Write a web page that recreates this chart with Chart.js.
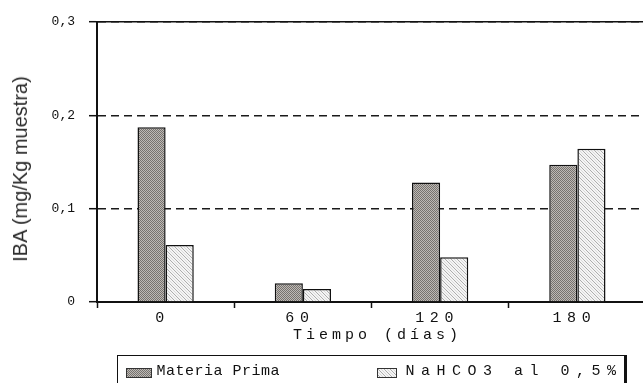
<!DOCTYPE html>
<html>
<head>
<meta charset="utf-8">
<script src="https://cdn.jsdelivr.net/npm/chart.js@4/dist/chart.umd.min.js"></script>
<style>
  html, body { margin: 0; padding: 0; background: #fff; width: 643px; height: 383px; overflow: hidden; }
  #wrap { position: relative; width: 643px; height: 383px; overflow: hidden; }
  #chart { position: absolute; left: 0; top: 0; }
  #ytitle {
    position: absolute; left: 20px; top: 169px;
    transform: translate(-50%, -50%) rotate(-90deg);
    font: 20px "Liberation Sans", Arial, sans-serif; line-height: 20px;
    white-space: nowrap; color: #2b2b2b;
  }
  #legend {
    position: absolute; left: 117px; top: 355px; width: 510px; height: 60px;
    border: 1.5px solid #111; border-right-width: 3px; box-sizing: border-box;
  }
  .sw { position: absolute; top: 11.5px; height: 10px; border: 1px solid #333; box-sizing: border-box; }
  .lt { position: absolute; top: 8px; font: 15px "Liberation Mono", monospace; line-height: 16px; color: #111; white-space: nowrap; }
</style>
</head>
<body>
<div id="wrap">
  <canvas id="chart" width="648" height="383"></canvas>
  <div id="ytitle"></div>
  <div id="legend"></div>
</div>
<script>
// Storage time (days) and IBA content for each treatment
const categories = ['0', '60', '120', '180'];
const seriesNames = ['Materia Prima', 'NaHCO3 al 0,5%'];
const materiaPrima = [0.187, 0.020, 0.128, 0.147];
const bicarbonato = [0.061, 0.014, 0.048, 0.164];
const yTickLabels = ['0', '0,1', '0,2', '0,3'];
const xTitle = 'Tiempo (días)';
const yTitle = 'IBA (mg/Kg muestra)';

// Fill textures: fine stipple for the raw material, light diagonal hatch for the bicarbonate
function stippleTile() {
  const c = document.createElement('canvas');
  c.width = 4; c.height = 4;
  const g = c.getContext('2d');
  for (let y = 0; y < 4; y++) {
    for (let x = 0; x < 4; x++) {
      g.fillStyle = ((x + y) % 2 === 0) ? '#76726e' : '#bdb9b5';
      g.fillRect(x, y, 1, 1);
    }
  }
  return c;
}
function hatchTile() {
  const c = document.createElement('canvas');
  c.width = 6; c.height = 6;
  const g = c.getContext('2d');
  g.fillStyle = '#f4f4f4';
  g.fillRect(0, 0, 6, 6);
  for (let i = 0; i < 6; i++) {
    g.fillStyle = '#acacac';
    g.fillRect(i, i, 1, 1);
    g.fillStyle = '#dadada';
    g.fillRect(i, (i + 3) % 6, 1, 1);
  }
  return c;
}
const tiles = [stippleTile(), hatchTile()];
const canvas = document.getElementById('chart');
const ctx = canvas.getContext('2d');
const fills = tiles.map(t => ctx.createPattern(t, 'repeat'));

// Category axis whose labels and title use wide letter spacing
const LABEL_SPACING = '5.5px';
const TITLE_SPACING = '4px';
const TITLE_SHIFT = 6;
class SpacedCategoryScale extends Chart.CategoryScale {
  drawLabels(area) {
    const c = this.ctx;
    c.save();
    c.letterSpacing = LABEL_SPACING;
    super.drawLabels(area);
    c.restore();
  }
  drawTitle() {
    const c = this.ctx;
    c.save();
    c.letterSpacing = TITLE_SPACING;
    c.translate(TITLE_SHIFT, 0);
    super.drawTitle();
    c.restore();
  }
}
SpacedCategoryScale.id = 'spacedCategory';
SpacedCategoryScale.defaults = Chart.CategoryScale.defaults;
Chart.register(SpacedCategoryScale);

// Solid top edge of the plot frame
const frameTop = {
  id: 'frameTop',
  afterDraw(chart) {
    const { ctx: c, chartArea: { left, top, right } } = chart;
    c.save();
    c.strokeStyle = '#111';
    c.lineWidth = 1.5;
    c.beginPath();
    c.moveTo(left, top);
    c.lineTo(right, top);
    c.stroke();
    c.restore();
  }
};

const monoFont = 'Liberation Mono';

new Chart(ctx, {
  type: 'bar',
  data: {
    labels: categories,
    datasets: [
      { label: seriesNames[0], data: materiaPrima, backgroundColor: fills[0] },
      { label: seriesNames[1], data: bicarbonato, backgroundColor: fills[1] }
    ]
  },
  options: {
    responsive: false,
    animation: false,
    devicePixelRatio: 1,
    layout: { padding: { left: 0, right: 2, top: 17, bottom: 38 } },
    datasets: {
      bar: {
        borderColor: '#111',
        borderWidth: 1.5,
        barPercentage: 1,
        categoryPercentage: 0.41
      }
    },
    plugins: {
      legend: { display: false },
      tooltip: { enabled: false }
    },
    scales: {
      x: {
        type: 'spacedCategory',
        offset: true,
        grid: { offset: true, drawOnChartArea: false, tickLength: 6, tickColor: '#111', tickWidth: 1.5 },
        border: { color: '#111', width: 2 },
        ticks: {
          font: { family: monoFont, size: 15 },
          color: '#111',
          padding: 1,
          labelOffset: -3,
          maxRotation: 0,
          autoSkip: false
        },
        title: {
          display: true,
          text: xTitle,
          font: { family: monoFont, size: 15 },
          color: '#111',
          padding: { top: 0, bottom: 1 }
        },
        afterFit(scale) { scale.height = 43; }
      },
      y: {
        min: 0,
        max: 0.3,
        ticks: {
          stepSize: 0.1,
          callback: (value, index) => yTickLabels[index],
          font: { family: monoFont, size: 13 },
          color: '#111',
          padding: 14
        },
        grid: {
          color: '#1a1a1a',
          lineWidth: 1.4,
          tickLength: 8,
          tickColor: '#111',
          tickWidth: 1.5,
          tickBorderDash: []
        },
        border: { color: '#111', width: 2, dash: [8, 5] },
        title: { display: false },
        afterFit(scale) { scale.width = 97; }
      }
    }
  },
  plugins: [frameTop]
});

// Axis title and boxed legend below the plot
document.getElementById('ytitle').textContent = yTitle;
const legend = document.getElementById('legend');
const legendItems = [
  { sw: 7.5, swW: 26, tx: 38.5, spacing: '0.5px' },
  { sw: 258.5, swW: 20, tx: 287.5, spacing: '6.5px' }
];
seriesNames.forEach((name, i) => {
  const it = legendItems[i];
  const sw = document.createElement('div');
  sw.className = 'sw';
  sw.style.left = it.sw + 'px';
  sw.style.width = it.swW + 'px';
  sw.style.backgroundImage = 'url(' + tiles[i].toDataURL() + ')';
  legend.appendChild(sw);
  const tx = document.createElement('div');
  tx.className = 'lt';
  tx.style.left = it.tx + 'px';
  tx.style.letterSpacing = it.spacing;
  tx.textContent = name;
  legend.appendChild(tx);
});
</script>
</body>
</html>
